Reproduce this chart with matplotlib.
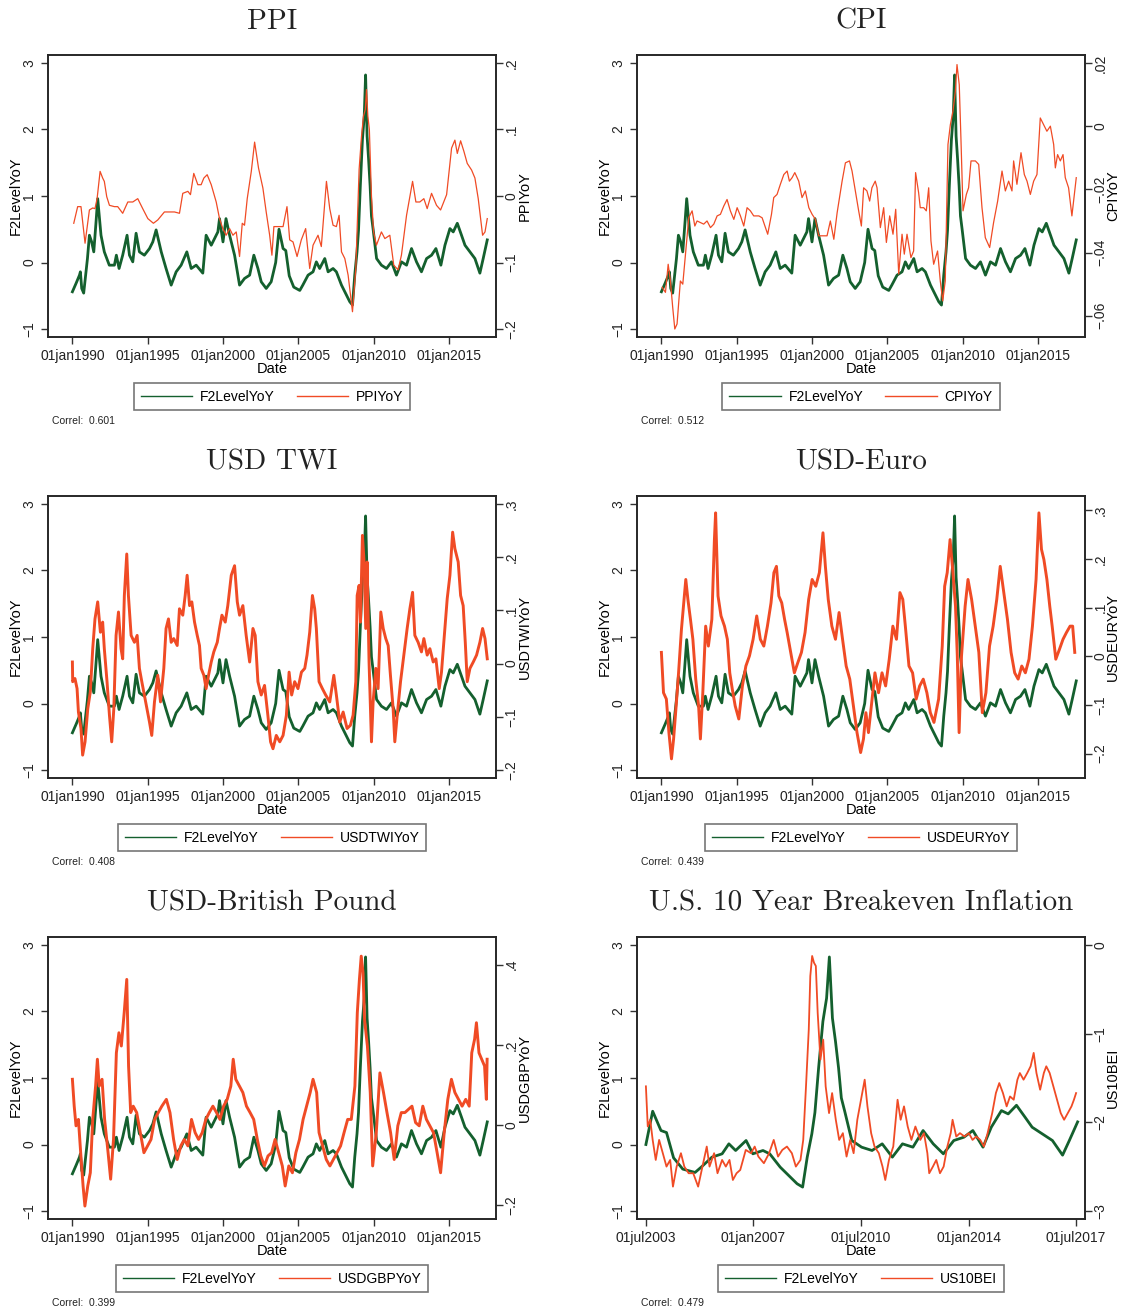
import matplotlib
matplotlib.use("Agg")
import matplotlib.pyplot as plt
from matplotlib.lines import Line2D

plt.rcParams['font.family'] = ['Liberation Sans', 'DejaVu Sans']

GREEN = '#14602e'
RED = '#f04b25'

# factor series (decimal year, value), shared by all panels
f2_points = [
    (1990.00, -0.44), (1990.25, -0.31), (1990.47, -0.19), (1990.53, -0.14), (1990.62, -0.39),
    (1990.75, -0.46), (1991.00, 0.06), (1991.13, 0.41), (1991.28, 0.31), (1991.42, 0.16),
    (1991.57, 0.61), (1991.68, 0.96), (1991.90, 0.41), (1992.12, 0.16), (1992.45, -0.04),
    (1992.79, -0.04), (1992.92, 0.11), (1993.10, -0.09), (1993.34, 0.11), (1993.63, 0.41),
    (1993.79, 0.11), (1994.01, 0.01), (1994.23, 0.44), (1994.45, 0.16), (1994.78, 0.11),
    (1995.12, 0.21), (1995.34, 0.31), (1995.56, 0.49), (1995.90, 0.16), (1996.22, -0.09),
    (1996.56, -0.34), (1996.89, -0.14), (1997.22, -0.04), (1997.60, 0.16), (1997.89, -0.09),
    (1998.22, -0.04), (1998.66, -0.16), (1998.88, 0.41), (1999.22, 0.26), (1999.66, 0.46),
    (1999.77, 0.66), (2000.00, 0.31), (2000.20, 0.66), (2000.44, 0.41), (2000.77, 0.11),
    (2001.10, -0.34), (2001.43, -0.24), (2001.77, -0.19), (2002.05, 0.11), (2002.32, -0.09),
    (2002.54, -0.29), (2002.87, -0.39), (2003.20, -0.29), (2003.50, 0.00), (2003.72, 0.50),
    (2003.99, 0.21), (2004.17, 0.18), (2004.40, -0.20), (2004.70, -0.37), (2005.10, -0.42),
    (2005.30, -0.34), (2005.65, -0.19), (2005.98, -0.14), (2006.20, 0.01), (2006.42, -0.09),
    (2006.76, 0.06), (2006.98, -0.14), (2007.31, -0.09), (2007.53, -0.14), (2007.87, -0.34),
    (2008.20, -0.49), (2008.42, -0.59), (2008.60, -0.64), (2008.75, -0.19), (2008.90, 0.16),
    (2009.00, 0.48), (2009.12, 1.15), (2009.26, 1.85), (2009.38, 2.20), (2009.47, 2.82),
    (2009.57, 1.90), (2009.67, 1.55), (2009.77, 1.15), (2009.86, 0.70), (2009.97, 0.50),
    (2010.20, 0.06), (2010.52, -0.04),
    (2010.86, -0.09), (2011.19, 0.01), (2011.52, -0.19), (2011.85, 0.01), (2012.19, -0.04),
    (2012.52, 0.21), (2012.85, 0.01), (2013.18, -0.14), (2013.52, 0.06), (2013.85, 0.11),
    (2014.14, 0.21), (2014.47, -0.04), (2014.74, 0.26), (2015.07, 0.51), (2015.29, 0.46),
    (2015.56, 0.59), (2015.84, 0.41), (2016.07, 0.26), (2016.40, 0.16), (2016.73, 0.06),
    (2017.06, -0.16), (2017.28, 0.06), (2017.55, 0.34),
]

ppi_points = [
    (1990.09, -0.041), (1990.35, -0.016), (1990.57, -0.016), (1990.84, -0.071), (1991.13, -0.021),
    (1991.35, -0.018), (1991.50, -0.019), (1991.64, -0.004), (1991.84, 0.037), (1992.01, 0.027),
    (1992.12, 0.022), (1992.28, -0.001), (1992.46, -0.014), (1992.79, -0.016), (1993.01, -0.016),
    (1993.34, -0.026), (1993.68, -0.009), (1994.01, -0.009), (1994.34, -0.004), (1994.67, -0.019),
    (1995.01, -0.034), (1995.38, -0.041), (1995.67, -0.036), (1996.11, -0.024), (1996.45, -0.024),
    (1996.78, -0.024), (1997.11, -0.026), (1997.33, 0.004), (1997.67, 0.007), (1997.84, 0.002),
    (1998.06, 0.034), (1998.33, 0.017), (1998.55, 0.017), (1998.73, 0.027), (1998.95, 0.032),
    (1999.22, 0.017), (1999.55, -0.009), (1999.77, -0.034), (1999.99, -0.049), (2000.21, -0.059),
    (2000.44, -0.049), (2000.66, -0.059), (2000.88, -0.054), (2001.10, -0.091), (2001.28, -0.041),
    (2001.43, -0.044), (2001.61, -0.004), (2001.88, 0.037), (2002.10, 0.081), (2002.36, 0.042),
    (2002.65, 0.012), (2002.87, -0.024), (2003.10, -0.059), (2003.25, -0.089), (2003.38, -0.046),
    (2003.55, -0.046), (2003.99, -0.046), (2004.25, -0.016), (2004.43, -0.066), (2004.65, -0.069),
    (2004.92, -0.091), (2005.20, -0.066), (2005.49, -0.049), (2005.76, -0.109), (2005.98, -0.074),
    (2006.31, -0.059), (2006.53, -0.076), (2006.87, 0.022), (2007.09, -0.019), (2007.31, -0.044),
    (2007.53, -0.046), (2007.71, -0.029), (2007.87, -0.084), (2008.09, -0.094), (2008.31, -0.119),
    (2008.60, -0.174), (2008.82, -0.109), (2009.04, 0.040), (2009.20, 0.090), (2009.33, 0.120),
    (2009.45, 0.130), (2009.53, 0.160), (2009.62, 0.120), (2009.72, 0.100), (2009.86, 0.000),
    (2010.00, -0.054), (2010.19, -0.074), (2010.52, -0.054), (2010.75, -0.064), (2011.08, -0.059),
    (2011.34, -0.104), (2011.63, -0.111), (2011.85, -0.089), (2012.19, -0.029), (2012.59, 0.022),
    (2012.81, -0.009), (2013.07, -0.009), (2013.34, -0.004), (2013.56, -0.019), (2013.85, 0.004),
    (2014.18, -0.014), (2014.45, -0.021), (2014.85, 0.002), (2015.18, 0.072), (2015.40, 0.084),
    (2015.56, 0.064), (2015.78, 0.083), (2016.00, 0.067), (2016.22, 0.049), (2016.51, 0.039),
    (2016.73, 0.027), (2016.95, -0.004), (2017.24, -0.059), (2017.40, -0.054), (2017.55, -0.034),
]

cpi_points = [
    (1990.05, -0.0510), (1990.27, -0.0526), (1990.45, -0.0437), (1990.60, -0.0490), (1990.75, -0.0573),
    (1990.89, -0.0642), (1991.04, -0.0626), (1991.26, -0.0490), (1991.42, -0.0500), (1991.60, -0.0405),
    (1991.82, -0.0289), (1992.04, -0.0268), (1992.22, -0.0316), (1992.37, -0.0300), (1992.59, -0.0305),
    (1992.81, -0.0310), (1993.03, -0.0300), (1993.26, -0.0321), (1993.48, -0.0310), (1993.70, -0.0284),
    (1993.92, -0.0279), (1994.14, -0.0253), (1994.36, -0.0232), (1994.58, -0.0268), (1994.81, -0.0295),
    (1995.03, -0.0258), (1995.25, -0.0284), (1995.47, -0.0316), (1995.69, -0.0258), (1995.91, -0.0268),
    (1996.13, -0.0284), (1996.47, -0.0284), (1996.69, -0.0290), (1996.91, -0.0321), (1997.06, -0.0342),
    (1997.31, -0.0279), (1997.46, -0.0226), (1997.68, -0.0216), (1997.90, -0.0184), (1998.13, -0.0153),
    (1998.35, -0.0142), (1998.50, -0.0174), (1998.68, -0.0163), (1998.86, -0.0147), (1999.12, -0.0174),
    (1999.34, -0.0226), (1999.56, -0.0205), (1999.79, -0.0258), (2000.01, -0.0279), (2000.23, -0.0295),
    (2000.45, -0.0347), (2000.67, -0.0347), (2001.00, -0.0347), (2001.22, -0.0300), (2001.45, -0.0358),
    (2001.67, -0.0274), (2002.00, -0.0174), (2002.22, -0.0116), (2002.49, -0.0110), (2002.66, -0.0142),
    (2002.88, -0.0205), (2003.10, -0.0268), (2003.28, -0.0316), (2003.43, -0.0195), (2003.65, -0.0205),
    (2003.83, -0.0237), (2003.98, -0.0195), (2004.20, -0.0174), (2004.32, -0.0195), (2004.54, -0.0321),
    (2004.76, -0.0258), (2004.94, -0.0368), (2005.16, -0.0284), (2005.38, -0.0342), (2005.56, -0.0263),
    (2005.76, -0.0468), (2005.98, -0.0342), (2006.13, -0.0405), (2006.31, -0.0342), (2006.57, -0.0416),
    (2006.75, -0.0395), (2006.88, -0.0147), (2007.08, -0.0210), (2007.19, -0.0258), (2007.42, -0.0258),
    (2007.59, -0.0268), (2007.75, -0.0195), (2007.90, -0.0363), (2008.08, -0.0437), (2008.34, -0.0395),
    (2008.52, -0.0490), (2008.68, -0.0553), (2008.85, -0.0490), (2009.03, -0.0058), (2009.19, 0.0005),
    (2009.36, 0.0047), (2009.52, 0.0110), (2009.63, 0.0195), (2009.78, 0.0131), (2009.89, -0.0037),
    (2010.03, -0.0268), (2010.25, -0.0216), (2010.40, -0.0195), (2010.56, -0.0110), (2010.85, -0.0110),
    (2011.07, -0.0121), (2011.29, -0.0258), (2011.51, -0.0353), (2011.80, -0.0384), (2012.06, -0.0305),
    (2012.33, -0.0237), (2012.62, -0.0142), (2012.84, -0.0205), (2013.06, -0.0174), (2013.28, -0.0205),
    (2013.39, -0.0110), (2013.61, -0.0184), (2013.88, -0.0084), (2014.10, -0.0153), (2014.28, -0.0174),
    (2014.50, -0.0216), (2014.72, -0.0174), (2014.94, -0.0153), (2015.16, 0.0026), (2015.38, 0.0005),
    (2015.60, -0.0016), (2015.83, 0.0000), (2016.05, -0.0058), (2016.16, -0.0132), (2016.31, -0.0090),
    (2016.49, -0.0110), (2016.67, -0.0090), (2016.82, -0.0163), (2017.04, -0.0195), (2017.26, -0.0284),
    (2017.55, -0.0163),
]

twi_points = [
    (1990.00, 0.003), (1990.02, -0.034), (1990.17, -0.028), (1990.31, -0.047), (1990.40, -0.091),
    (1990.57, -0.122), (1990.68, -0.172), (1990.84, -0.147), (1991.02, -0.085), (1991.19, -0.053),
    (1991.35, 0.028), (1991.50, 0.084), (1991.68, 0.116), (1991.86, 0.059), (1992.01, 0.078),
    (1992.12, 0.028), (1992.30, -0.034), (1992.46, -0.097), (1992.61, -0.147), (1992.75, -0.085),
    (1992.90, 0.053), (1993.06, 0.097), (1993.23, 0.028), (1993.34, 0.009), (1993.45, 0.128),
    (1993.61, 0.206), (1993.72, 0.128), (1993.90, 0.053), (1994.12, 0.040), (1994.30, 0.053),
    (1994.45, -0.009), (1994.61, -0.034), (1994.78, -0.059), (1994.96, -0.085), (1995.12, -0.110),
    (1995.27, -0.135), (1995.45, -0.072), (1995.67, -0.022), (1995.85, -0.072), (1996.07, -0.009),
    (1996.22, 0.066), (1996.38, 0.084), (1996.56, 0.040), (1996.73, 0.047), (1996.96, 0.034),
    (1997.11, 0.103), (1997.33, 0.091), (1997.49, 0.128), (1997.62, 0.166), (1997.78, 0.109),
    (1997.93, 0.116), (1998.11, 0.078), (1998.29, 0.053), (1998.44, 0.034), (1998.55, -0.009),
    (1998.73, -0.022), (1998.88, -0.047), (1999.04, -0.022), (1999.22, 0.003), (1999.39, 0.022),
    (1999.62, 0.040), (1999.77, 0.066), (1999.93, 0.091), (2000.15, 0.078), (2000.32, 0.109),
    (2000.55, 0.166), (2000.77, 0.184), (2000.95, 0.116), (2001.10, 0.091), (2001.32, 0.109),
    (2001.54, 0.053), (2001.77, 0.003), (2001.99, 0.066), (2002.14, 0.053), (2002.32, -0.034),
    (2002.54, -0.059), (2002.76, -0.041), (2002.98, -0.097), (2003.16, -0.147), (2003.32, -0.160),
    (2003.54, -0.135), (2003.77, -0.147), (2003.99, -0.135), (2004.21, -0.097), (2004.39, -0.016),
    (2004.56, -0.059), (2004.76, -0.034), (2004.98, -0.047), (2005.21, -0.016), (2005.43, -0.009),
    (2005.58, 0.016), (2005.76, 0.059), (2005.94, 0.128), (2006.09, 0.103), (2006.20, 0.066),
    (2006.38, -0.034), (2006.60, -0.047), (2006.82, -0.059), (2007.09, -0.072), (2007.36, -0.022),
    (2007.53, -0.059), (2007.75, -0.110), (2007.98, -0.091), (2008.24, -0.122), (2008.46, -0.116),
    (2008.64, -0.097), (2008.82, -0.034), (2008.91, 0.128), (2009.04, 0.147), (2009.13, 0.078),
    (2009.26, 0.241), (2009.37, 0.191), (2009.48, 0.066), (2009.57, 0.191), (2009.70, 0.003),
    (2009.86, -0.147), (2009.97, -0.072), (2010.15, -0.009), (2010.30, -0.047), (2010.48, 0.097),
    (2010.64, 0.066), (2010.81, 0.047), (2010.97, 0.034), (2011.12, -0.022), (2011.30, -0.085),
    (2011.41, -0.147), (2011.57, -0.097), (2011.79, -0.034), (2012.01, 0.016), (2012.23, 0.066),
    (2012.41, 0.103), (2012.59, 0.134), (2012.74, 0.053), (2012.96, 0.040), (2013.18, 0.022),
    (2013.34, 0.047), (2013.56, 0.016), (2013.74, 0.028), (2013.96, 0.003), (2014.14, 0.009),
    (2014.36, -0.047), (2014.51, -0.016), (2014.74, 0.066), (2014.89, 0.122), (2015.07, 0.166),
    (2015.25, 0.247), (2015.40, 0.216), (2015.62, 0.191), (2015.78, 0.128), (2015.95, 0.109),
    (2016.09, 0.040), (2016.22, -0.034), (2016.40, -0.009), (2016.62, 0.003), (2016.84, 0.016),
    (2017.06, 0.040), (2017.24, 0.066), (2017.40, 0.047), (2017.55, 0.009),
]

eur_points = [
    (1990.00, 0.008), (1990.14, -0.075), (1990.33, -0.088), (1990.50, -0.157), (1990.67, -0.211),
    (1990.81, -0.170), (1990.98, -0.102), (1991.14, -0.034), (1991.33, 0.055), (1991.52, 0.124),
    (1991.62, 0.158), (1991.76, 0.117), (1991.93, 0.076), (1992.09, 0.035), (1992.28, -0.047),
    (1992.47, -0.102), (1992.59, -0.170), (1992.75, -0.075), (1992.94, 0.062), (1993.12, 0.021),
    (1993.35, 0.076), (1993.52, 0.240), (1993.60, 0.295), (1993.76, 0.124), (1993.96, 0.083),
    (1994.19, 0.062), (1994.38, 0.035), (1994.54, -0.034), (1994.71, -0.068), (1994.90, -0.102),
    (1995.14, -0.129), (1995.38, -0.061), (1995.61, -0.020), (1995.85, 0.001), (1996.09, 0.035),
    (1996.33, 0.083), (1996.57, 0.035), (1996.80, 0.021), (1997.04, 0.062), (1997.28, 0.110),
    (1997.47, 0.172), (1997.64, 0.185), (1997.80, 0.124), (1997.99, 0.110), (1998.18, 0.076),
    (1998.35, 0.049), (1998.59, 0.008), (1998.83, -0.034), (1999.06, -0.013), (1999.30, 0.008),
    (1999.54, 0.049), (1999.78, 0.117), (2000.01, 0.158), (2000.25, 0.144), (2000.49, 0.172),
    (2000.73, 0.254), (2000.89, 0.185), (2001.08, 0.117), (2001.32, 0.062), (2001.56, 0.035),
    (2001.80, 0.090), (2002.03, 0.035), (2002.27, -0.020), (2002.51, -0.047), (2002.75, -0.102),
    (2002.99, -0.157), (2003.23, -0.198), (2003.42, -0.170), (2003.58, -0.116), (2003.75, -0.157),
    (2003.94, -0.102), (2004.18, -0.034), (2004.42, -0.075), (2004.65, -0.034), (2004.89, -0.061),
    (2005.13, -0.006), (2005.37, 0.062), (2005.61, 0.035), (2005.84, 0.131), (2006.03, 0.117),
    (2006.20, 0.062), (2006.44, -0.020), (2006.68, -0.034), (2006.92, -0.088), (2007.15, -0.061),
    (2007.39, -0.047), (2007.63, -0.075), (2007.86, -0.116), (2008.10, -0.136), (2008.41, -0.088),
    (2008.65, 0.021), (2008.81, 0.144), (2008.98, 0.172), (2009.17, 0.240), (2009.36, 0.172),
    (2009.53, 0.103), (2009.65, 0.001), (2009.77, -0.157), (2009.93, 0.001), (2010.17, 0.103),
    (2010.36, 0.158), (2010.60, 0.117), (2010.84, 0.062), (2011.08, 0.008), (2011.31, -0.116),
    (2011.55, -0.075), (2011.79, 0.021), (2012.03, 0.062), (2012.27, 0.117), (2012.50, 0.185),
    (2012.74, 0.131), (2012.98, 0.076), (2013.22, 0.008), (2013.46, -0.034), (2013.69, -0.047),
    (2013.93, -0.020), (2014.17, -0.034), (2014.41, -0.006), (2014.64, 0.062), (2014.88, 0.158),
    (2015.07, 0.295), (2015.24, 0.220), (2015.40, 0.199), (2015.60, 0.158), (2015.79, 0.103),
    (2015.95, 0.062), (2016.19, -0.006), (2016.43, 0.014), (2016.67, 0.035), (2016.90, 0.049),
    (2017.14, 0.062), (2017.31, 0.062), (2017.45, 0.008),
]

gbp_points = [
    (1990.00, 0.114), (1990.12, 0.047), (1990.24, -0.002), (1990.40, 0.014), (1990.55, -0.069),
    (1990.71, -0.152), (1990.83, -0.202), (1991.02, -0.152), (1991.19, -0.119), (1991.35, 0.014),
    (1991.54, 0.097), (1991.66, 0.164), (1991.78, 0.097), (1991.97, 0.114), (1992.14, 0.014),
    (1992.37, -0.069), (1992.54, -0.135), (1992.73, -0.036), (1992.92, 0.180), (1993.09, 0.230),
    (1993.25, 0.197), (1993.44, 0.280), (1993.61, 0.363), (1993.73, 0.147), (1993.87, 0.031),
    (1994.04, 0.047), (1994.27, 0.031), (1994.51, -0.019), (1994.75, -0.069), (1994.99, -0.052),
    (1995.22, -0.036), (1995.46, 0.014), (1995.70, 0.031), (1995.94, 0.047), (1996.24, 0.064),
    (1996.48, 0.031), (1996.72, -0.036), (1996.96, -0.086), (1997.20, -0.052), (1997.43, -0.036),
    (1997.67, -0.052), (1997.91, 0.014), (1998.15, -0.019), (1998.38, -0.036), (1998.62, -0.019),
    (1998.86, 0.014), (1999.09, 0.031), (1999.33, 0.047), (1999.57, 0.031), (1999.80, 0.014),
    (2000.04, 0.047), (2000.28, 0.064), (2000.52, 0.097), (2000.68, 0.164), (2000.85, 0.114),
    (2001.09, 0.097), (2001.32, 0.081), (2001.56, 0.047), (2001.80, 0.031), (2002.04, 0.014),
    (2002.28, -0.036), (2002.51, -0.077), (2002.75, -0.102), (2002.99, -0.077), (2003.23, -0.069),
    (2003.46, -0.036), (2003.70, -0.069), (2003.94, -0.102), (2004.13, -0.152), (2004.37, -0.102),
    (2004.61, -0.119), (2004.84, -0.069), (2005.08, -0.036), (2005.32, 0.014), (2005.55, 0.047),
    (2005.79, 0.081), (2005.98, 0.114), (2006.22, 0.081), (2006.38, -0.019), (2006.62, -0.052),
    (2006.86, -0.086), (2007.10, -0.102), (2007.33, -0.086), (2007.57, -0.069), (2007.81, -0.052),
    (2008.04, -0.019), (2008.28, 0.014), (2008.52, 0.014), (2008.76, 0.097), (2008.92, 0.280),
    (2009.06, 0.363), (2009.18, 0.421), (2009.30, 0.380), (2009.40, 0.263), (2009.59, 0.197),
    (2009.78, 0.081), (2009.94, -0.102), (2010.18, -0.019), (2010.42, 0.130), (2010.66, 0.081),
    (2010.89, 0.031), (2011.13, -0.019), (2011.37, -0.086), (2011.61, -0.002), (2011.84, 0.031),
    (2012.08, 0.031), (2012.32, 0.039), (2012.55, 0.047), (2012.79, 0.006), (2013.03, -0.002),
    (2013.27, 0.047), (2013.51, 0.014), (2013.74, -0.002), (2013.98, -0.019), (2014.22, -0.069),
    (2014.45, -0.119), (2014.69, -0.019), (2014.93, 0.064), (2015.17, 0.114), (2015.40, 0.081),
    (2015.64, 0.064), (2015.88, 0.047), (2016.12, 0.064), (2016.35, 0.047), (2016.52, 0.180),
    (2016.71, 0.214), (2016.83, 0.255), (2017.00, 0.180), (2017.18, 0.164), (2017.37, 0.147),
    (2017.49, 0.064), (2017.54, 0.164),
]

bei_points = [
    (2003.50, -1.594), (2003.56, -2.047), (2003.64, -1.971), (2003.72, -2.198), (2003.82, -2.424),
    (2003.93, -2.198), (2004.05, -2.348), (2004.17, -2.499), (2004.29, -2.424), (2004.38, -2.725),
    (2004.50, -2.499), (2004.64, -2.348), (2004.75, -2.499), (2004.89, -2.574), (2005.04, -2.574),
    (2005.20, -2.725), (2005.34, -2.499), (2005.48, -2.273), (2005.57, -2.499), (2005.72, -2.348),
    (2005.83, -2.574), (2005.98, -2.424), (2006.10, -2.499), (2006.22, -2.424), (2006.33, -2.650),
    (2006.45, -2.574), (2006.57, -2.537), (2006.75, -2.311), (2006.92, -2.348), (2007.04, -2.273),
    (2007.16, -2.386), (2007.34, -2.461), (2007.51, -2.348), (2007.66, -2.198), (2007.80, -2.386),
    (2007.94, -2.311), (2008.09, -2.273), (2008.25, -2.348), (2008.38, -2.499), (2008.53, -2.424),
    (2008.62, -2.198), (2008.71, -1.594), (2008.80, -0.954), (2008.85, -0.351), (2008.91, -0.124),
    (2008.97, -0.200), (2009.03, -0.237), (2009.09, -0.765), (2009.18, -1.293), (2009.27, -1.067),
    (2009.35, -1.594), (2009.46, -1.896), (2009.56, -1.670), (2009.68, -1.971), (2009.79, -2.198),
    (2009.91, -2.122), (2010.03, -2.386), (2010.15, -2.198), (2010.26, -2.348), (2010.38, -1.971),
    (2010.50, -1.745), (2010.62, -1.519), (2010.71, -1.820), (2010.83, -2.122), (2010.94, -2.273),
    (2011.08, -2.348), (2011.20, -2.499), (2011.29, -2.650), (2011.41, -2.424), (2011.55, -2.273),
    (2011.69, -1.745), (2011.79, -1.971), (2011.90, -1.820), (2012.02, -2.047), (2012.14, -2.198),
    (2012.27, -2.047), (2012.43, -2.198), (2012.55, -2.122), (2012.66, -2.348), (2012.72, -2.574),
    (2012.84, -2.499), (2012.95, -2.424), (2013.07, -2.574), (2013.19, -2.499), (2013.31, -2.273),
    (2013.42, -2.122), (2013.48, -1.971), (2013.60, -2.160), (2013.72, -2.122), (2013.87, -2.160),
    (2014.01, -2.122), (2014.13, -2.198), (2014.25, -2.160), (2014.38, -2.198), (2014.50, -2.273),
    (2014.62, -2.122), (2014.77, -1.896), (2014.89, -1.670), (2015.00, -1.557), (2015.12, -1.670),
    (2015.24, -1.820), (2015.35, -1.708), (2015.47, -1.745), (2015.59, -1.519), (2015.67, -1.444),
    (2015.79, -1.519), (2015.91, -1.444), (2016.02, -1.368), (2016.12, -1.217), (2016.21, -1.444),
    (2016.33, -1.632), (2016.45, -1.444), (2016.53, -1.368), (2016.64, -1.444), (2016.76, -1.594),
    (2016.88, -1.745), (2017.00, -1.896), (2017.11, -1.971), (2017.23, -1.896), (2017.35, -1.820),
    (2017.43, -1.745), (2017.50, -1.670),
]

year_ticks = [1990, 1995, 2000, 2005, 2010, 2015]
year_labels = ['01jan1990', '01jan1995', '01jan2000', '01jan2005', '01jan2010', '01jan2015']
bei_ticks = [2003.5, 2007.0, 2010.5, 2014.0, 2017.5]
bei_tick_labels = ['01jul2003', '01jan2007', '01jul2010', '01jan2014', '01jul2017']

left_ticks = [-1, 0, 1, 2, 3]
left_labels = ['\u22121', '0', '1', '2', '3']

# right-axis ticks per panel
ppi_ticks = [-0.2, -0.1, 0, 0.1, 0.2]
ppi_labels = ['\u2212.2', '\u2212.1', '0', '.1', '.2']
cpi_ticks = [-0.06, -0.04, -0.02, 0, 0.02]
cpi_labels = ['\u2212.06', '\u2212.04', '\u2212.02', '0', '.02']
fx_ticks = [-0.2, -0.1, 0, 0.1, 0.2, 0.3]
fx_labels = ['\u2212.2', '\u2212.1', '0', '.1', '.2', '.3']
gbp_ticks = [-0.2, 0, 0.2, 0.4]
gbp_labels = ['\u2212.2', '0', '.2', '.4']
bei_right_ticks = [-3, -2, -1, 0]
bei_right_labels = ['\u22123', '\u22122', '\u22121', '0']

correls = ['0.601', '0.512', '0.408', '0.439', '0.399', '0.479']

YLIM = (-1.12, 3.12)
FULL_XLIM = (1988.38, 2018.13)
BEI_XLIM = (2003.21, 2017.79)


def style_axis(ax, pad):
    for sp in ax.spines.values():
        sp.set_linewidth(1.2)
        sp.set_color('#262626')
    ax.tick_params(direction='out', length=5, width=1, color='#333333',
                   labelsize=10, labelcolor='#222222')
    ax.tick_params(axis='y', pad=pad)


def panel(ax, title, points, name, right_of_left, rticks, rlabels, correl,
          xlim=FULL_XLIM, xticks=year_ticks, xlabels=year_labels, red_lw=2.1,
          green_from=None, rlabel_x=1.065):
    gx = [p[0] for p in f2_points]
    gy = [p[1] for p in f2_points]
    if green_from is not None:
        keep = [i for i, x in enumerate(gx) if x >= green_from]
        gx = [gx[i] for i in keep]
        gy = [gy[i] for i in keep]
    ax.plot(gx, gy, color=GREEN, lw=2.0, solid_joinstyle='round')
    ax.set_xlim(*xlim)
    ax.set_ylim(*YLIM)
    ax.set_xticks(xticks)
    ax.set_xticklabels(xlabels)
    ax.set_yticks(left_ticks)
    ax.set_yticklabels(left_labels, rotation=90, va='center')
    ax.set_ylabel('F2LevelYoY', fontsize=10.5, va='center')
    ax.yaxis.set_label_coords(-0.071, 0.5)
    ax.set_xlabel('Date', fontsize=10.5, va='center')
    ax.xaxis.set_label_coords(0.5, -0.112)
    style_axis(ax, 3.5)

    ax2 = ax.twinx()
    rx = [p[0] for p in points]
    ry = [p[1] for p in points]
    ax2.plot(rx, ry, color=RED, lw=red_lw, solid_joinstyle='round')
    ax2.set_ylim(right_of_left(YLIM[0]), right_of_left(YLIM[1]))
    ax2.set_yticks(rticks)
    ax2.set_yticklabels(rlabels, rotation=90, va='center')
    ax2.set_ylabel(name, fontsize=10.5, rotation=90, va='center')
    ax2.yaxis.set_label_coords(rlabel_x, 0.5)
    style_axis(ax2, 1.2)

    ax.text(0.5, 1.118, title, transform=ax.transAxes, ha='center', va='center',
            family='cmr10', fontsize=21, color='#222222')

    handles = [Line2D([], [], color=GREEN, lw=1.0), Line2D([], [], color=RED, lw=1.0)]
    leg = ax.legend(handles, ['F2LevelYoY', name], loc='center',
                    bbox_to_anchor=(0.5, -0.211), ncol=2, frameon=True, fancybox=False,
                    fontsize=10, handlelength=3.7, handletextpad=0.55, columnspacing=1.6,
                    borderpad=0.5, borderaxespad=0)
    leg.get_frame().set_edgecolor('#555555')
    leg.get_frame().set_linewidth(1.2)
    ax.text(0.009, -0.298, 'Correl:  ' + correl, transform=ax.transAxes,
            fontsize=7.5, va='center', color='#222222')


fig = plt.figure(figsize=(11.22, 13.13), dpi=100)
col_left = [48 / 1122, 637 / 1122]
row_bottom = [1 - 337 / 1313, 1 - 778 / 1313, 1 - 1219 / 1313]
w, h = 448 / 1122, 282 / 1313
axes = [[fig.add_axes([cl, rb, w, h]) for cl in col_left] for rb in row_bottom]

panel(axes[0][0], 'PPI', ppi_points, 'PPIYoY',
      lambda v: (v - 1) / 10, ppi_ticks, ppi_labels, correls[0], red_lw=0.9)
panel(axes[0][1], 'CPI', cpi_points, 'CPIYoY',
      lambda v: 0.02 + (v - 3) * 0.02105, cpi_ticks, cpi_labels, correls[1], red_lw=0.9,
      rlabel_x=1.0625)
panel(axes[1][0], 'USD TWI', twi_points, 'USDTWIYoY',
      lambda v: -0.2 + (v + 1) * 0.125, fx_ticks, fx_labels, correls[2])
panel(axes[1][1], 'USD-Euro', eur_points, 'USDEURYoY',
      lambda v: (v - 0.71) * 0.1368, fx_ticks, fx_labels, correls[3], rlabel_x=1.0625)
panel(axes[2][0], 'USD-British Pound', gbp_points, 'USDGBPYoY',
      lambda v: (v - 0.293) * 0.1658, gbp_ticks, gbp_labels, correls[4])
panel(axes[2][1], 'U.S. 10 Year Breakeven Inflation', bei_points, 'US10BEI',
      lambda v: (v - 3) * 0.75, bei_right_ticks, bei_right_labels, correls[5],
      xlim=BEI_XLIM, xticks=bei_ticks, xlabels=bei_tick_labels, red_lw=1.3,
      green_from=2003.5, rlabel_x=1.0625)

fig.savefig('out.png', dpi=100, facecolor='white')
